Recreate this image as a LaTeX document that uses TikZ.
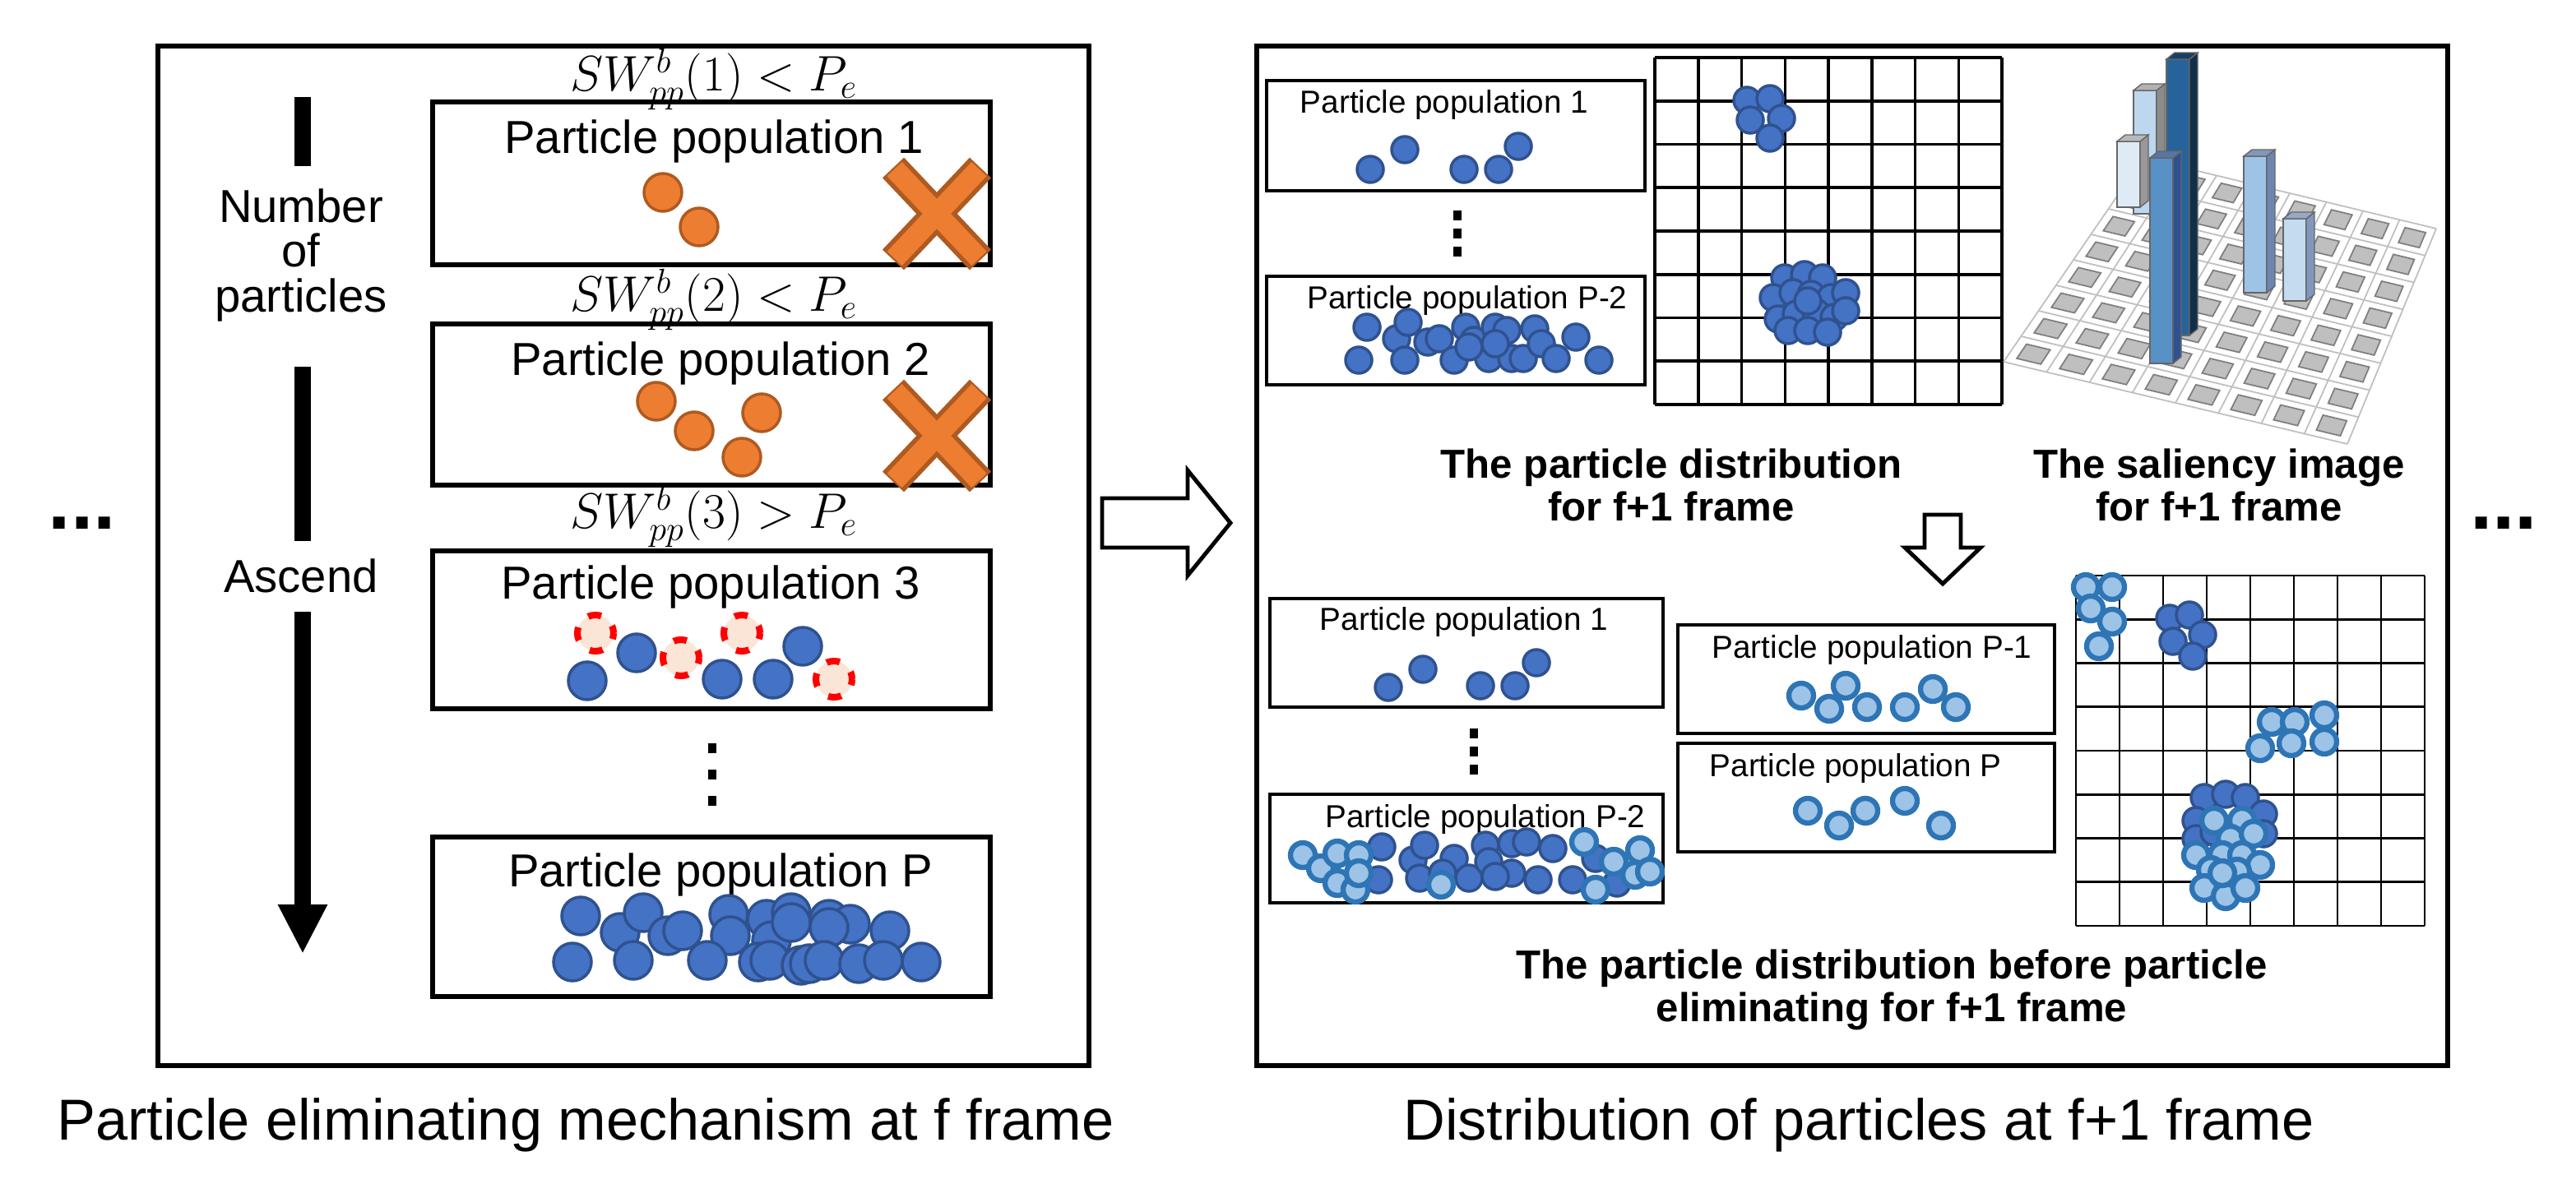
\documentclass[tikz,border=0pt]{standalone}
\usepackage{fontspec}
\setmainfont{Liberation Sans}
\usetikzlibrary{calc,arrows.meta}
\definecolor{dfill}{HTML}{4472C4}
\definecolor{dedge}{HTML}{2F528F}
\definecolor{lfill}{HTML}{9DC3E6}
\definecolor{ledge}{HTML}{2E75B6}
\definecolor{ofill}{HTML}{ED7D31}
\definecolor{oedge}{HTML}{AE5A21}
\definecolor{peach}{HTML}{FBE5D6}
\definecolor{tile}{HTML}{BFBFBF}
\definecolor{tileE}{HTML}{7F7F7F}
\definecolor{barA}{HTML}{BDD7EE}
\definecolor{barB}{HTML}{DEEBF7}
\newcommand\sbar[6]{%
  \filldraw[draw=black!60,line width=0.4pt,fill=#4] (#1,#2) rectangle (#1+14,#3+4);
  \filldraw[draw=black!60,line width=0.4pt,fill=#5] (#1+14,#2) -- (#1+19,#2-4) -- (#1+19,#3) -- (#1+14,#3+4) -- cycle;
  \filldraw[draw=black!60,line width=0.4pt,fill=#6] (#1,#3+4) -- (#1+14,#3+4) -- (#1+19,#3) -- (#1+5,#3) -- cycle;}
\newcommand\mydots[3]{\foreach \k in {0,1,2}{\fill (#1-2.5,#2+\k*#3) rectangle (#1+2.5,#2+\k*#3+6);}}
\begin{document}
\begin{tikzpicture}[x=0.02cm,y=-0.02cm,
  box/.style={draw,line width=1.7pt},
  sbox/.style={draw,line width=1.3pt},
  dp/.style={fill=dfill,draw=dedge,line width=1pt},
  lp/.style={fill=lfill,draw=ledge,line width=1.8pt},
  op/.style={fill=ofill,draw=oedge,line width=1pt},
  rp/.style={fill=peach,draw=red,line width=2.3pt,dash pattern=on 4.6pt off 5.2pt,dash phase=2pt},
  big/.style={font=\fontsize{16}{15.5}\selectfont},
  small/.style={font=\fontsize{11}{13}\selectfont},
  capt/.style={font=\fontsize{14}{15}\selectfont\bfseries,align=center},
  title/.style={font=\fontsize{20}{24}\selectfont},
  math/.style={font=\fontsize{17}{20}\selectfont}]
\useasboundingbox (0,0) rectangle (1566,720);
% ---------- left panel ----------
\draw[box] (96,28) rectangle (662,648);
\node[font=\fontsize{28}{30}\selectfont\bfseries] (ldots) at (50,318) {...};
\node[font=\fontsize{28}{30}\selectfont\bfseries] (rdots) at (1522,318) {...};
\node[math] (f1) at (434,48) {$SW_{pp}^{b}(1) < P_e$};
\node[math] (f2) at (434,182) {$SW_{pp}^{b}(2) < P_e$};
\node[math] (f3) at (434,314) {$SW_{pp}^{b}(3) > P_e$};
\draw[box] (263,62) rectangle (602,161);
\draw[box] (263,197) rectangle (602,295);
\draw[box] (263,335) rectangle (602,431);
\draw[box] (263,509) rectangle (602,606);
\node[big] (t1) at (434,86) {Particle population 1};
\node[big] (t2) at (438,221) {Particle population 2};
\node[big] (t3) at (432,357) {Particle population 3};
\node[big] (tP) at (438,532) {Particle population P};
% orange
\foreach \x/\y in {403/117,425/138,399/244,422/262,451/278,463/251}
  \draw[op] (\x,\y) circle[radius=0.23cm];
\foreach \cy in {130,265}{
  \draw[oedge,line width=0.36cm] (543,\cy-28) -- (596,\cy+28) (596,\cy-28) -- (543,\cy+28);
  \draw[ofill,line width=0.25cm] (543.8,\cy-27.2) -- (595.2,\cy+27.2) (595.2,\cy-27.2) -- (543.8,\cy+27.2);}
% pop 3
\foreach \x/\y in {362/385,414/400,451/385,507/413}
  \draw[rp] (\x,\y) circle[radius=0.22cm];
\foreach \x/\y in {357/414,387/397,439/413,470/413,488/393}
  \draw[dp] (\x,\y) circle[radius=0.23cm];
\mydots{433}{452}{16}
% pop P
\foreach \x/\y in {353/557,377/567,391/555,406/569,415/566,443/556,444/569,466/559,481/555,504/559,517/562,504/564,469/572,541/566,348/585,385/584,430/584,461/585,468/584,487/587,492/586,501/584,522/586,537/584,560/585,481/561}
  \draw[dp] (\x,\y) circle[radius=0.23cm];
% left vertical arrow
\node[big,align=center] (nop) at (183,155) {Number\\of\\particles};
\node[big] (asc) at (183,350) {Ascend};
\coordinate (a0) at (184,59); \coordinate (a1) at (184,101);
\coordinate (a2) at (184,223); \coordinate (a3) at (184,329);
\coordinate (a4) at (184,372); \coordinate (a5) at (184,580);
\draw[line width=0.2cm] (a0) -- (a1);
\draw[line width=0.2cm] (a2) -- (a3);
\draw[line width=0.2cm,-{Triangle[width=0.56cm,length=0.6cm]}] (a4) -- (a5);
\node[title] (lt) at (356,684) {Particle eliminating mechanism at f frame};
% big hollow arrow
\draw[line width=1.4pt,fill=white] (670,303) -- (722,303) -- (722,286) -- (748,318) -- (722,350) -- (722,333) -- (670,333) -- cycle;
% ---------- right panel ----------
\draw[box] (764,28) rectangle (1488,648);
\draw[sbox] (770,49) rectangle (1000,116);
\draw[sbox] (770,168) rectangle (1000,234);
\node[small] (r1) at (878,64) {Particle population 1};
\node[small] (r2) at (892,183) {Particle population P-2};
\foreach \x/\y in {833/103,854/91,890/103,911/103,923/89}
  \draw[dp] (\x,\y) circle[radius=0.16cm];
\mydots{886}{128}{11}
\foreach \x/\y in {831/199,826/219,849/206,854/219,856/196,868/208,875/206,884/219,891/199,896/207,905/218,909/199,916/201,919/218,926/218,933/200,937/209,946/218,958/205,972/219,893/211,909/209}
  \draw[dp] (\x,\y) circle[radius=0.16cm];
% grid 1
\foreach \i in {0,...,8}{
  \draw[line width=1pt] (1006+\i*26.375,35) -- (1006+\i*26.375,246);
  \draw[line width=1pt] (1006,35+\i*26.375) -- (1217,35+\i*26.375);}
\foreach \x/\y in {1062/61,1076/60,1064/73,1083/72,1076/84,1085/169,1097/167,1108/169,1078/181,1090/178,1101/179,1113/181,1122/178,1081/194,1092/191,1104/190,1115/193,1122/189,1087/201,1099/201,1111/202,1099/183}
  \draw[dp] (\x,\y) circle[radius=0.16cm];
% saliency plane
\coordinate (L) at (1218,220); \coordinate (B) at (1427,270);
\coordinate (R) at (1481,139); \coordinate (T) at (1303,96);
\foreach \i in {0,...,8}{
  \pgfmathsetmacro\u{\i/8}
  \draw[black!25,line width=0.5pt] ($(L)!\u!(B)$) -- ($(T)!\u!(R)$);
  \draw[black!25,line width=0.5pt] ($(L)!\u!(T)$) -- ($(B)!\u!(R)$);}
\foreach \i in {0,...,7}{\foreach \j in {0,...,7}{
  \pgfmathsetmacro\ua{(\i+0.22)/8}\pgfmathsetmacro\ub{(\i+0.78)/8}
  \pgfmathsetmacro\va{(\j+0.22)/8}\pgfmathsetmacro\vb{(\j+0.78)/8}
  \filldraw[fill=tile,draw=tileE,line width=0.5pt]
   ($($(L)!\ua!(B)$)!\va!($(T)!\ua!(R)$)$) -- ($($(L)!\ub!(B)$)!\va!($(T)!\ub!(R)$)$) --
   ($($(L)!\ub!(B)$)!\vb!($(T)!\ub!(R)$)$) -- ($($(L)!\ua!(B)$)!\vb!($(T)!\ua!(R)$)$) -- cycle;}}
\sbar{1297}{130}{51}{barA}{black!45}{black!30}
\sbar{1287}{126}{82}{barB}{black!40}{black!28}
\sbar{1317}{204}{32}{ledge!85!black}{ledge!40!black}{ledge!55!black}
\sbar{1307}{221}{92}{ledge!80!white}{dedge}{dedge!80!white}
\sbar{1364}{178}{91}{lfill}{dedge!70!white}{dedge!60!white}
\sbar{1388}{183}{129}{lfill!60!white}{dedge!60!white}{dedge!50!white}
\node[capt] (c1) at (1016,295) {The particle distribution\\for f+1 frame};
\node[capt] (c2) at (1349,295) {The saliency image\\for f+1 frame};
% down arrow
\draw[line width=1.4pt,fill=white] (1170,313) -- (1192,313) -- (1192,333) -- (1204,333) -- (1181,355) -- (1158,333) -- (1170,333) -- cycle;
% bottom boxes
\draw[sbox] (772,364) rectangle (1011,430);
\draw[sbox] (772,483) rectangle (1011,549);
\draw[sbox] (1020,380) rectangle (1249,446);
\draw[sbox] (1020,452) rectangle (1249,518);
\node[small] (b1) at (890,378) {Particle population 1};
\node[small] (b2) at (903,498) {Particle population P-2};
\node[small] (b3) at (1138,395) {Particle population P-1};
\node[small] (b4) at (1128,467) {Particle population P};
\mydots{896}{443}{11}
\foreach \x/\y in {844/418,865/407,900/417,921/417,934/403}
  \draw[dp] (\x,\y) circle[radius=0.16cm];
\foreach \x/\y in {840/515,838/535,859/523,866/514,863/534,884/522,893/534,903/514,905/524,919/513,919/531,928/512,935/535,944/516,956/535,970/522,983/537,909/533,877/531}
  \draw[dp] (\x,\y) circle[radius=0.16cm];
\foreach \x/\y in {792/520,803/528,813/519,826/520,813/537,824/541,826/531,876/538,963/512,981/524,970/541,994/532,997/517,1003/530}
  \draw[lp] (\x,\y) circle[radius=0.15cm];
\foreach \x/\y in {1095/423,1112/431,1122/417,1135/430,1158/430,1175/419,1189/430,1099/493,1118/502,1134/493,1158/487,1180/502}
  \draw[lp] (\x,\y) circle[radius=0.15cm];
% grid 2
\foreach \i in {0,...,8}{
  \draw[line width=0.8pt] (1262+\i*26.5,350) -- (1262+\i*26.5,563);
  \draw[line width=0.8pt] (1262,350+\i*26.625) -- (1474,350+\i*26.625);}
\foreach \x/\y in {1319/376,1331/374,1339/386,1321/390,1333/399,1340/485,1353/483,1365/485,1335/499,1376/495,1376/507,1335/510,1346/506}
  \draw[dp] (\x,\y) circle[radius=0.16cm];
\foreach \x/\y in {1268/357,1284/357,1271/370,1284/378,1276/393,1381/439,1395/439,1413/435,1374/455,1393/452,1413/451,1346/499,1363/499,1356/510,1370/507,1335/520,1351/520,1363/520,1374/526,1344/529,1360/530,1340/540,1353/545,1365/540,1351/531}
  \draw[lp] (\x,\y) circle[radius=0.15cm];
\node[capt] (c3) at (1150,602) {The particle distribution before particle\\eliminating for f+1 frame};
\node[title] (rt) at (1130,684) {Distribution of particles at f+1 frame};
\end{tikzpicture}
\end{document}
